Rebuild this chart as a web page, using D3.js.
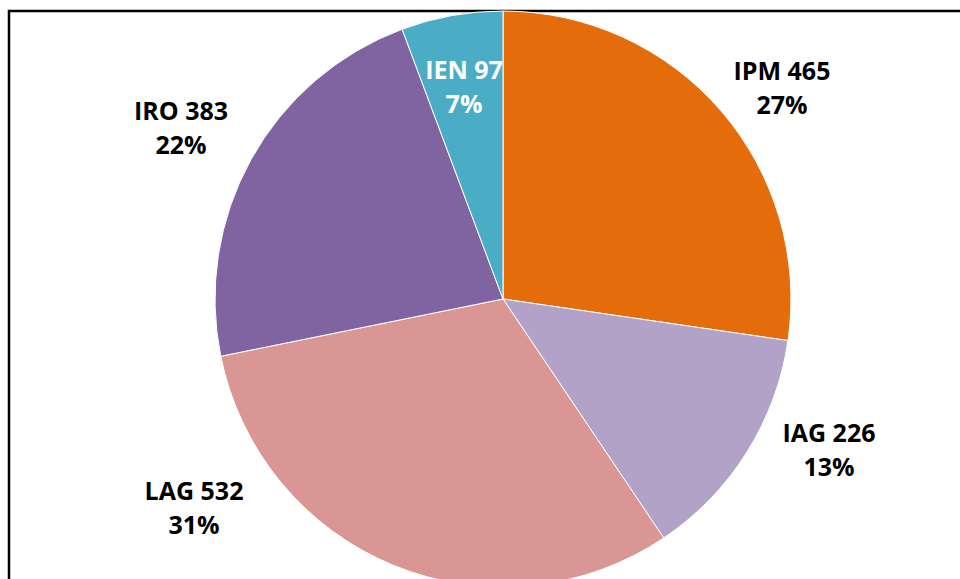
<!DOCTYPE html>
<html>
<head>
<meta charset="utf-8">
<script src="https://cdn.jsdelivr.net/npm/d3@7"></script>
<style>
  body { margin: 0; background: #fff; }
  svg { display: block; }
</style>
</head>
<body>
<svg width="960" height="579"></svg>
<script>
var svg = d3.select('svg')

var width = +svg.attr('width')
var height = +svg.attr('height')

// data
var categories = ['IPM', 'IAG', 'LAG', 'IRO', 'IEN']
var values = [465, 226, 532, 383, 97]
var percentLabels = ['27%', '13%', '31%', '22%', '7%']

var colors = ['#E46C0A', '#B3A2C7', '#D99694', '#8064A2', '#4BACC6']
var textColors = ['#000', '#000', '#000', '#000', '#fff']

// label anchor offsets from pie centre (Excel placed them by hand)
var labelOffsets = [[279, -210], [326, 152], [-309, 210], [-322, -170], [-39, -211]]

var cx = 503
var cy = 299
var radius = 288

//Frame around the plot area
svg.append('path')
	.attr('d', 'M 9 ' + height + ' L 9 11 L ' + width + ' 11')
	.attr('fill', 'none')
	.attr('stroke', '#000')
	.attr('stroke-width', 2.5)

var pie = d3.pie().sort(null).value(function(d) { return d })
var arc = d3.arc().innerRadius(0).outerRadius(radius)

var arcs = pie(values)

var g = svg.append('g').attr('transform', 'translate(' + cx + ',' + cy + ')')

g.selectAll('path.slice')
	.data(arcs)
	.enter()
	.append('path')
	.attr('class', 'slice')
	.attr('d', arc)
	.attr('fill', function(d, i) { return colors[i] })
	.attr('stroke', '#fff')
	.attr('stroke-width', 1)

var labels = g.selectAll('text.label')
	.data(arcs)
	.enter()
	.append('text')
	.attr('class', 'label')
	.attr('text-anchor', 'middle')
	.attr('font-family', '"Open Sans", Lato, sans-serif')
	.attr('font-weight', 'bold')
	.attr('font-size', '25px')
	.attr('fill', function(d, i) { return textColors[i] })
	.attr('transform', function(d, i) {
		return 'translate(' + labelOffsets[i][0] + ',' + labelOffsets[i][1] + ')'
	})

labels.append('tspan')
	.attr('x', 0)
	.attr('y', -9)
	.text(function(d, i) { return categories[i] + ' ' + values[i] })

labels.append('tspan')
	.attr('x', 0)
	.attr('y', 25)
	.text(function(d, i) { return percentLabels[i] })
</script>
</body>
</html>
